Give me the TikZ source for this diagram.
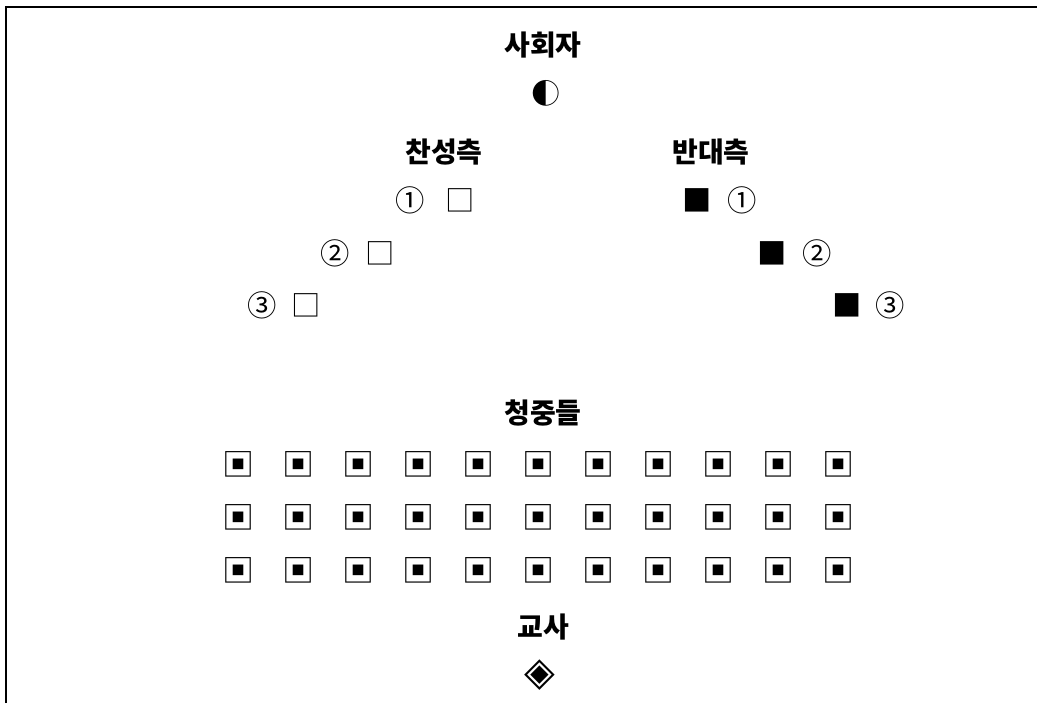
\documentclass[tikz,border=0pt]{standalone}
\usepackage{fontspec}
\setmainfont{Noto Sans CJK KR}
\newfontfamily\symfont{DejaVu Sans}
\usepackage{xcolor}

\begin{document}
\begin{tikzpicture}[x=0.75pt,y=-0.75pt,
    title/.style={font=\fontsize{21}{24}\selectfont\bfseries, inner sep=0pt},
    sym/.style={font=\fontsize{22}{24}\selectfont, inner sep=0pt},
    seat/.style={font=\fontsize{24}{26}\selectfont, inner sep=0pt}]
\useasboundingbox (0,0) rectangle (1037,703);
\draw[line width=1.2pt] (6,703) -- (6,7) -- (1037,7);

% moderator
\node[title] (mod) at (543,45) {사회자};
\node[sym] (modsym) at (546,93) {◐};

% sides
\node[title] (pro) at (444,152) {찬성측};
\node[title] (con) at (711,152) {반대측};

\node[sym] (pro1n) at (410,200) {①};
\node[sym] (pro1b) at (460,200) {□};
\node[sym] (pro2n) at (335,253) {②};
\node[sym] (pro2b) at (380,253) {□};
\node[sym] (pro3n) at (262,305) {③};
\node[sym] (pro3b) at (306,305) {□};

\node[sym] (con1b) at (697,200) {■};
\node[sym] (con1n) at (742,200) {①};
\node[sym] (con2b) at (772,253) {■};
\node[sym] (con2n) at (817,253) {②};
\node[sym] (con3b) at (847,305) {■};
\node[sym] (con3n) at (890,305) {③};

% audience
\node[title] (aud) at (543,413) {청중들};
\foreach \r in {0,1,2}
  \foreach \c in {0,...,10}
    \node[seat] (s-\r-\c) at ({238+60*\c},{464+53*\r}) {▣};

% teacher
\node[title] (tch) at (543,627) {교사};
\node[sym, font=\fontsize{30}{32}\selectfont] (tchsym) at (540,675) {\symfont ◈};
\end{tikzpicture}
\end{document}
